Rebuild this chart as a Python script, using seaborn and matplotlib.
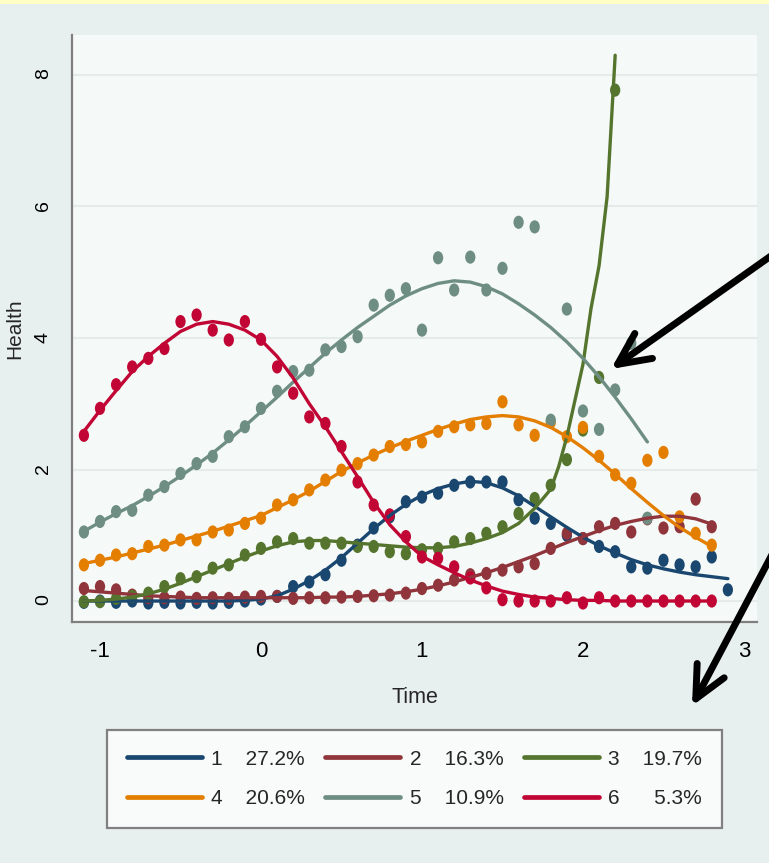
import matplotlib
matplotlib.use("Agg")
import matplotlib.pyplot as plt
import pandas as pd
import seaborn as sns
from matplotlib.lines import Line2D
from matplotlib.patches import FancyArrowPatch, Rectangle
from matplotlib.path import Path

# 0. Data
TIME = [-1.1, -1.0, -0.9, -0.8, -0.7, -0.6, -0.5, -0.4, -0.3, -0.2, -0.1,
        0.0, 0.1, 0.2, 0.3, 0.4, 0.5, 0.6, 0.7, 0.8, 0.9,
        1.0, 1.1, 1.2, 1.3, 1.4, 1.5, 1.6, 1.7, 1.8, 1.9,
        2.0, 2.1, 2.2, 2.3, 2.4, 2.5, 2.6, 2.7, 2.8, 2.9]

GROUPS = ["1", "2", "3", "4", "5", "6"]
SHARES = ["27.2%", "16.3%", "19.7%", "20.6%", "10.9%", "5.3%"]
COLORS = ["#1a476f", "#90353b", "#55752f", "#e37e00", "#6e8e84", "#c10534"]

# observed group means (dots)
obs_1 = [-0.02, 0.0, -0.02, 0.0, -0.03, -0.02, -0.03, -0.02, -0.03, -0.02, 0.0,
         0.03, 0.07, 0.22, 0.29, 0.40, 0.62, 0.85, 1.11, 1.28, 1.51,
         1.58, 1.64, 1.76, 1.81, 1.81, 1.81, 1.54, 1.26, 1.18, 1.00,
         0.95, 0.83, 0.75, 0.52, 0.50, 0.62, 0.55, 0.52, 0.67, 0.17]
obs_2 = [0.19, 0.22, 0.17, 0.09, 0.05, 0.05, 0.06, 0.04, 0.05, 0.04, 0.06,
         0.07, 0.07, 0.04, 0.05, 0.05, 0.06, 0.07, 0.08, 0.09, 0.12,
         0.19, 0.24, 0.32, 0.40, 0.42, 0.47, 0.52, 0.57, 0.80, 1.03,
         0.95, 1.13, 1.18, 1.05, 1.25, 1.11, 1.13, 1.55, 1.13]
obs_3 = [-0.01, -0.01, 0.04, 0.07, 0.12, 0.22, 0.34, 0.37, 0.50, 0.55, 0.70,
         0.80, 0.90, 0.95, 0.88, 0.88, 0.88, 0.83, 0.83, 0.75, 0.72,
         0.78, 0.80, 0.90, 0.95, 1.03, 1.13, 1.33, 1.56, 1.76, 2.15,
         2.60, 3.40, 7.77]
obs_4 = [0.55, 0.62, 0.70, 0.72, 0.83, 0.85, 0.93, 0.93, 1.05, 1.08, 1.18,
         1.26, 1.46, 1.54, 1.69, 1.84, 1.99, 2.09, 2.22, 2.35, 2.38,
         2.42, 2.58, 2.65, 2.68, 2.70, 3.03, 2.68, 2.52, 2.72, 2.50,
         2.64, 2.20, 1.92, 1.79, 2.14, 2.26, 1.28, 1.03, 0.85]
obs_5 = [1.05, 1.21, 1.36, 1.38, 1.61, 1.74, 1.94, 2.09, 2.20, 2.50, 2.65,
         2.93, 3.19, 3.49, 3.51, 3.82, 3.87, 4.02, 4.50, 4.65, 4.75,
         4.12, 5.22, 4.73, 5.23, 4.73, 5.06, 5.76, 5.69, 2.75, 4.44,
         2.89, 2.61, 3.21, 3.92, 1.26]
obs_6 = [2.52, 2.93, 3.29, 3.56, 3.69, 3.84, 4.25, 4.35, 4.12, 3.97, 4.25,
         3.98, 3.56, 3.16, 2.80, 2.70, 2.35, 1.81, 1.46, 1.31, 0.98,
         0.67, 0.65, 0.52, 0.35, 0.20, 0.02, 0.0, 0.0, 0.0, 0.05,
         -0.03, 0.05, 0.0, 0.0, 0.0, 0.0, 0.0, 0.0, 0.0]

# fitted trajectories (lines)
fit_1 = [0.0, 0.0, 0.0, 0.0, 0.0, 0.0, 0.0, 0.0, 0.0, 0.0, 0.01,
         0.03, 0.08, 0.18, 0.31, 0.47, 0.66, 0.88, 1.10, 1.30, 1.47,
         1.61, 1.71, 1.78, 1.82, 1.80, 1.72, 1.60, 1.44, 1.28, 1.12,
         0.97, 0.84, 0.73, 0.63, 0.55, 0.49, 0.44, 0.40, 0.37, 0.34]
fit_2 = [0.16, 0.14, 0.12, 0.10, 0.08, 0.07, 0.06, 0.05, 0.05, 0.05, 0.05,
         0.05, 0.05, 0.05, 0.05, 0.06, 0.06, 0.07, 0.09, 0.11, 0.14,
         0.18, 0.23, 0.29, 0.36, 0.43, 0.51, 0.60, 0.69, 0.79, 0.89,
         0.98, 1.07, 1.15, 1.21, 1.26, 1.29, 1.29, 1.25, 1.17]
fit_3_time = TIME[:30] + [1.85, 1.9, 1.95, 2.0, 2.05, 2.1, 2.15, 2.2]
fit_3 = [0.0, 0.01, 0.03, 0.06, 0.11, 0.18, 0.27, 0.37, 0.47, 0.57, 0.67,
         0.76, 0.84, 0.90, 0.92, 0.92, 0.90, 0.88, 0.86, 0.84, 0.82,
         0.81, 0.81, 0.83, 0.88, 0.95, 1.04, 1.18, 1.41, 1.70,
         2.05, 2.50, 3.05, 3.60, 4.45, 5.10, 6.15, 8.30]
fit_4 = [0.57, 0.62, 0.67, 0.73, 0.79, 0.85, 0.92, 0.99, 1.06, 1.14, 1.22,
         1.30, 1.42, 1.54, 1.67, 1.82, 1.97, 2.10, 2.22, 2.33, 2.43,
         2.52, 2.61, 2.69, 2.76, 2.80, 2.82, 2.80, 2.74, 2.64, 2.50,
         2.33, 2.14, 1.93, 1.71, 1.50, 1.30, 1.12, 0.97, 0.83]
fit_5 = [1.06, 1.20, 1.33, 1.45, 1.59, 1.74, 1.90, 2.07, 2.25, 2.45, 2.66,
         2.88, 3.10, 3.33, 3.55, 3.77, 3.97, 4.16, 4.33, 4.50, 4.64,
         4.75, 4.83, 4.87, 4.85, 4.78, 4.67, 4.52, 4.35, 4.16, 3.94,
         3.69, 3.41, 3.10, 2.77, 2.42]
fit_6 = [2.58, 2.90, 3.20, 3.49, 3.72, 3.92, 4.10, 4.21, 4.25, 4.21, 4.12,
         3.97, 3.72, 3.39, 3.00, 2.65, 2.27, 1.89, 1.50, 1.16, 0.90,
         0.68, 0.55, 0.43, 0.32, 0.23, 0.15, 0.10, 0.06, 0.04, 0.02,
         0.01, 0.01, 0.0, 0.0, 0.0, 0.0, 0.0, 0.0, 0.0]

obs_values = [obs_1, obs_2, obs_3, obs_4, obs_5, obs_6]
fit_values = [fit_1, fit_2, fit_3, fit_4, fit_5, fit_6]
fit_times = [TIME[:len(fit_1)], TIME[:len(fit_2)], fit_3_time,
             TIME[:len(fit_4)], TIME[:len(fit_5)], TIME[:len(fit_6)]]

obs = pd.concat(
    [pd.DataFrame({"time": TIME[:len(v)], "health": v, "group": g})
     for g, v in zip(GROUPS, obs_values)],
    ignore_index=True,
)
fit = pd.concat(
    [pd.DataFrame({"time": t, "health": v, "group": g})
     for g, t, v in zip(GROUPS, fit_times, fit_values)],
    ignore_index=True,
)

# 1. Style
sns.set_theme(style="white")
plt.rcParams["font.family"] = ["Liberation Sans", "DejaVu Sans"]
plt.rcParams["axes.unicode_minus"] = False
FIG_BG = "#e8f0ef"
PLOT_BG = "#f5f9f7"
AXIS_GREY = "#7f7f7f"

W, H = 769, 863
fig = plt.figure(figsize=(W / 100, H / 100), dpi=100, facecolor=FIG_BG)
ax = fig.add_axes([72 / W, 1 - 622 / H, (757 - 72) / W, (622 - 35) / H])
ax.set_facecolor(PLOT_BG)

# slightly tall dots like the Stata export
circle = Path.unit_circle()
dot = Path(circle.vertices * [0.78, 1.0], circle.codes)

# 2. Plot
sns.scatterplot(data=obs, x="time", y="health", hue="group", hue_order=GROUPS,
                palette=COLORS, marker=dot, s=90, linewidth=0, legend=False,
                ax=ax, zorder=3)
sns.lineplot(data=fit, x="time", y="health", hue="group", hue_order=GROUPS,
             palette=COLORS, linewidth=2.4, estimator=None, legend=False,
             ax=ax, zorder=4)

# 3. Axes styling
ax.set_xlim(-1.174, 3.081)
ax.set_ylim(-0.319, 8.608)
ax.set_xticks([-1, 0, 1, 2, 3])
ax.set_yticks([0, 2, 4, 6, 8])
ax.yaxis.grid(True, color="#e5ebe8", linewidth=1.5)
ax.xaxis.grid(False)
ax.set_axisbelow(True)
sns.despine(ax=ax)
for side in ["left", "bottom"]:
    ax.spines[side].set_color(AXIS_GREY)
    ax.spines[side].set_linewidth(1.6)
ax.tick_params(direction="out", length=6.5, width=1.5, color=AXIS_GREY,
               labelsize=16, labelcolor="black", pad=7)
ax.tick_params(axis="y", labelrotation=90, pad=8, labelsize=14)
ax.set_xlabel("Time", fontsize=15.5, labelpad=18)
ax.set_ylabel("Health", fontsize=15, labelpad=8)

# 4. Legend below the plot, filled row by row
handles = [Line2D([], [], color=c, linewidth=3.4) for c in COLORS]
labels = [f"{g}    {s}" for g, s in zip(GROUPS, SHARES)]
labels[5] = "6      5.3%"
order = [0, 3, 1, 4, 2, 5]
leg = fig.legend([handles[i] for i in order], [labels[i] for i in order],
                 ncol=3, loc="center", mode="expand",
                 bbox_to_anchor=(107 / W, 35 / H, 615 / W, 98 / H),
                 frameon=True, fancybox=False, edgecolor="#808080",
                 facecolor="#f8fbfa", framealpha=1, fontsize=15,
                 handlelength=3.6, handletextpad=0.45, borderpad=0.95,
                 labelspacing=1.0, borderaxespad=0)
leg.get_frame().set_linewidth(1.6)

# 5. Decorations: top strip and the two black arrows
fig.add_artist(Rectangle((0, 1 - 4 / H), 1, 4 / H, transform=fig.transFigure,
                         facecolor="#ffffc6", edgecolor="none", zorder=0))
arrow_style = "->,head_length=23,head_width=11"
for tail, tip in [((785, 246), (611, 369)), ((785, 530), (692, 706))]:
    fig.add_artist(FancyArrowPatch(
        (tail[0] / W, 1 - tail[1] / H), (tip[0] / W, 1 - tip[1] / H),
        transform=fig.transFigure, arrowstyle=arrow_style, linewidth=5,
        color="black", shrinkA=0, shrinkB=0, zorder=10))

fig.savefig("out.png", dpi=100, facecolor=fig.get_facecolor())
